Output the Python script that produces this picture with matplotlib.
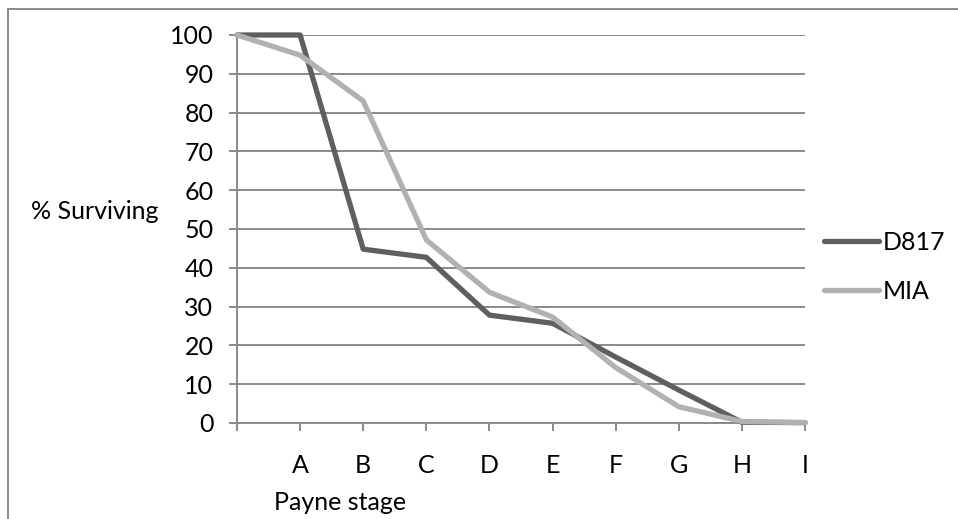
import matplotlib
matplotlib.use('Agg')
import matplotlib.pyplot as plt
from matplotlib.lines import Line2D

plt.rcParams['font.family'] = ['Lato', 'DejaVu Sans']

# Payne stage categories (first position is unlabeled start point)
stages = ['', 'A', 'B', 'C', 'D', 'E', 'F', 'G', 'H', 'I']
d817 = [100, 100, 44.8, 42.7, 27.8, 25.7, 17.0, 8.5, 0.2, 0.1]
mia = [100, 94.8, 83.0, 47.2, 33.7, 27.3, 14.3, 4.2, 0.4, 0.1]

y_ticks = list(range(0, 101, 10))

grid_col = '#8a8a8a'
fs = 18


def main():
    fig = plt.figure(figsize=(9.58, 5.19), dpi=100)
    W, H = 958, 519
    ax = fig.add_axes([237 / W, (H - 423) / H, (805 - 237) / W, (423 - 35) / H])

    x = list(range(len(stages)))
    ax.plot(x, d817, color='#5f5f5f', lw=3.8, label='D817',
            solid_capstyle='round', solid_joinstyle='round', clip_on=False)
    ax.plot(x, mia, color='#b1b1b1', lw=3.8, label='MIA',
            solid_capstyle='round', solid_joinstyle='round', clip_on=False)

    ax.set_xlim(0, len(stages) - 1)
    ax.set_ylim(0, 100)
    ax.set_yticks(y_ticks)
    ax.set_xticks(x)
    ax.set_xticklabels(stages)
    ax.yaxis.grid(True, color=grid_col, lw=1.4)
    ax.set_axisbelow(True)

    for s in ['top', 'right']:
        ax.spines[s].set_visible(False)
    for s in ['left', 'bottom']:
        ax.spines[s].set_color(grid_col)
        ax.spines[s].set_linewidth(1.4)
        ax.spines[s].set_zorder(0.5)

    ax.tick_params(axis='y', direction='out', length=6, width=1.4, color=grid_col,
                   labelsize=fs, pad=11)
    ax.tick_params(axis='x', direction='out', length=6, width=1.4, color=grid_col,
                   labelsize=fs, pad=16)

    fig.text(95 / W, 1 - 219 / H, '% Surviving', fontsize=fs, ha='center', va='baseline')
    fig.text(340 / W, 1 - 510 / H, 'Payne stage', fontsize=fs, ha='center', va='baseline')

    ax.legend(loc='upper left', bbox_to_anchor=(824 / W, 1 - 231 / H),
              bbox_transform=fig.transFigure, frameon=False, fontsize=fs,
              handlelength=2.2, handletextpad=0.15, labelspacing=1.03,
              borderpad=0, borderaxespad=0)

    # outer chart border (left and top edges visible)
    fig.add_artist(Line2D([8 / W, 8 / W], [0, 1 - 9 / H], transform=fig.transFigure,
                          color=grid_col, lw=1.4))
    fig.add_artist(Line2D([8 / W, 1], [1 - 9 / H, 1 - 9 / H], transform=fig.transFigure,
                          color=grid_col, lw=1.4))

    fig.savefig('out.png', dpi=100)


if __name__ == '__main__':
    main()
